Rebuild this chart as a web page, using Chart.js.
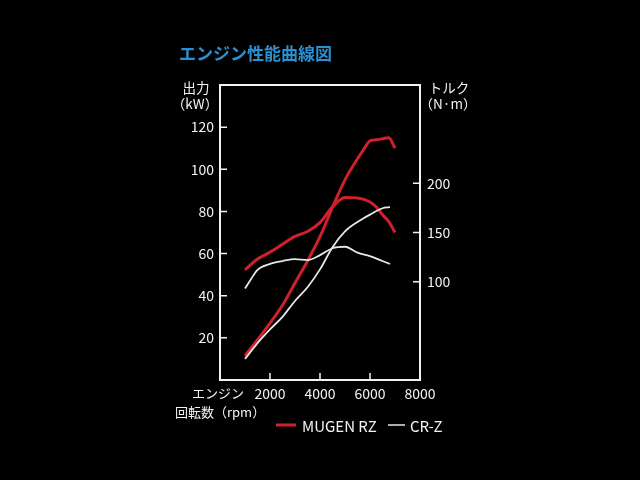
<!DOCTYPE html>
<html><head><meta charset="utf-8">
<script src="https://cdn.jsdelivr.net/npm/chart.js@4.4.0/dist/chart.umd.min.js"></script>
<style>html,body{margin:0;padding:0;background:#000;overflow:hidden}#wrap{width:640px;height:480px;background:#000}</style>
</head><body><div id="wrap"><canvas id="c" width="640" height="480"></canvas></div>
<script>
// rpm sample points
const rpmMugen = [1000,1500,2000,2500,3000,3500,4000,4500,5000,5500,5750,6000,6250,6500,6750,7000];
const powerMugen = [11.5,19,27,35.5,46,56.5,68,82,95,105,109.5,113.5,114,114.5,115,110]; // kW
const rpmMugenT = [1000,1500,2000,2500,3000,3500,4000,4500,5000,5500,6000,6250,6500,6750,7000];
const torqueMugen = [112,123,130,138,146,151,160,176,185.5,185,181,176,168,161,150]; // N·m
const rpmCrz = [1000,1500,2000,2500,3000,3500,4000,4500,5000,5500,6000,6500,6800];
const powerCrz = [10,17.5,24,30,37.5,44,52.5,63,70.5,75,78.5,81.5,82]; // kW
const rpmCrzT = [1000,1250,1500,2000,2500,3000,3500,4000,4500,5000,5500,6000,6500,6800];
const torqueCrz = [93,103,112,118,121,123,122,127,134,135.5,129.5,126,121,118]; // N·m

const xTicks = [2000,4000,6000,8000];
const powerTicks = [20,40,60,80,100,120];
const torqueTicks = [100,150,200];
const seriesNames = ['MUGEN RZ','CR-Z'];

const RED = '#d0202c';
const WHITE = '#e6e6e6';
const FONT = '"Noto Sans CJK JP", "Noto Sans", sans-serif';

const pts = (xs, ys) => xs.map((x,i)=>({x:x,y:ys[i]}));

const frame = {
  id:'frame',
  beforeDraw(chart){
    const c=chart.ctx; c.save(); c.fillStyle='#000'; c.fillRect(0,0,chart.width,chart.height); c.restore();
  },
  afterDraw(chart){
    const c=chart.ctx, a=chart.chartArea, s=chart.scales;
    c.save();
    c.strokeStyle='#f2f2f2'; c.lineWidth=2;
    c.strokeRect(a.left, a.top, a.right-a.left, a.bottom-a.top);
    c.lineWidth=1.5;
    c.beginPath();
    powerTicks.forEach(v=>{const y=s.y.getPixelForValue(v); c.moveTo(a.left,y); c.lineTo(a.left+7,y);});
    torqueTicks.forEach(v=>{const y=s.y1.getPixelForValue(v); c.moveTo(a.right-7,y); c.lineTo(a.right,y);});
    xTicks.forEach(v=>{const x=s.x.getPixelForValue(v); c.moveTo(x,a.bottom); c.lineTo(x,a.bottom-7);});
    c.stroke();
    // texts
    c.textBaseline='middle';
    c.fillStyle='#2b8fd2';
    c.font='bold 17px '+FONT; c.textAlign='left';
    c.fillText('エンジン性能曲線図',179,54);
    c.fillStyle='#f2f2f2';
    c.font='13.5px '+FONT;
    c.textAlign='center';
    c.fillText('出力',196,88);
    c.fillText('（kW）',195,104);
    c.fillText('トルク',449,88);
    c.fillText('（N·m）',448,104);
    c.textAlign='left';
    c.font='13px '+FONT;
    c.fillText('エンジン',192,393);
    c.fillText('回転数（rpm）',175,412);
    // legend
    c.font='15px '+FONT;
    c.strokeStyle=RED; c.lineWidth=3;
    c.beginPath(); c.moveTo(276,425); c.lineTo(296,425); c.stroke();
    c.fillText(seriesNames[0],302,426);
    c.strokeStyle=WHITE; c.lineWidth=1.5;
    c.beginPath(); c.moveTo(388,425); c.lineTo(405,425); c.stroke();
    c.fillText(seriesNames[1],410,426);
    c.restore();
  }
};

const tickFont = {family: FONT, size: 14};

new Chart(document.getElementById('c'), {
  type:'line',
  data:{datasets:[
    {label:seriesNames[1]+' power', data:pts(rpmCrz,powerCrz), yAxisID:'y', borderColor:WHITE, borderWidth:1.8},
    {label:seriesNames[1]+' torque', data:pts(rpmCrzT,torqueCrz), yAxisID:'y1', borderColor:WHITE, borderWidth:1.8},
    {label:seriesNames[0]+' power', data:pts(rpmMugen,powerMugen), yAxisID:'y', borderColor:RED, borderWidth:3},
    {label:seriesNames[0]+' torque', data:pts(rpmMugenT,torqueMugen), yAxisID:'y1', borderColor:RED, borderWidth:3}
  ]},
  options:{
    responsive:false, animation:false, devicePixelRatio:1,
    parsing:true,
    elements:{point:{radius:0}, line:{tension:0.35, cubicInterpolationMode:'monotone', fill:false}},
    layout:{padding:{top:85,left:0,right:0,bottom:0}},
    plugins:{legend:{display:false}, title:{display:false}, tooltip:{enabled:false}},
    scales:{
      x:{type:'linear', min:0, max:8000, grid:{display:false, drawTicks:false}, border:{display:false},
        afterBuildTicks:s=>{s.ticks=xTicks.map(v=>({value:v}));},
        afterFit:s=>{s.height=100;},
        ticks:{color:'#f2f2f2', font:tickFont, padding:5, maxRotation:0, autoSkip:false, callback:v=>String(v)}},
      y:{type:'linear', position:'left', min:0, max:140, grid:{display:false, drawTicks:false}, border:{display:false},
        afterBuildTicks:s=>{s.ticks=powerTicks.map(v=>({value:v}));},
        afterFit:s=>{s.width=220;},
        ticks:{color:'#f2f2f2', font:tickFont, padding:6, autoSkip:false}},
      y1:{type:'linear', position:'right', min:0, max:300, grid:{display:false, drawTicks:false}, border:{display:false},
        afterBuildTicks:s=>{s.ticks=torqueTicks.map(v=>({value:v}));},
        afterFit:s=>{s.width=220;},
        ticks:{color:'#f2f2f2', font:tickFont, padding:7, autoSkip:false}}
    }
  },
  plugins:[frame]
});
</script></body></html>
